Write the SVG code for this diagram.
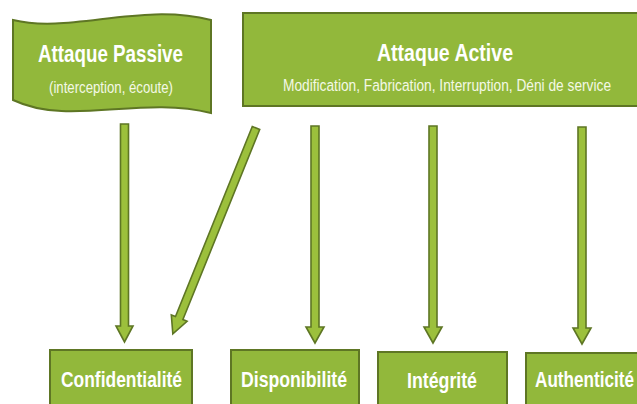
<svg xmlns="http://www.w3.org/2000/svg" width="637" height="404" viewBox="0 0 637 404">
  <style>
    .box { fill: #92b83b; stroke: #5e7624; stroke-width: 2; }
    .arrow { fill: #9cc03c; stroke: #5e7624; stroke-width: 1.6; stroke-linejoin: miter; }
    .title { font-family: "Liberation Sans", Arial, sans-serif; font-weight: bold; fill: #ffffff; }
    .sub { font-family: "Liberation Sans", Arial, sans-serif; fill: #f4f8e6; }
  </style>
  <rect x="0" y="0" width="637" height="404" fill="#ffffff"/>

  <!-- source attacks -->
  <g id="attaque-passive">
    <path class="box" d="M13,20 C70,34 140,2 211,20 L211,113 C140,95 70,127 13,100 Z"/>
    <text class="title" x="110.5" y="62" font-size="24" text-anchor="middle" textLength="145" lengthAdjust="spacingAndGlyphs">Attaque Passive</text>
    <text class="sub" x="111" y="93" font-size="17" text-anchor="middle" textLength="124" lengthAdjust="spacingAndGlyphs">(interception, écoute)</text>
  </g>

  <g id="attaque-active">
    <rect class="box" x="243" y="13" width="395" height="93"/>
    <text class="title" x="445" y="61" font-size="24" text-anchor="middle" textLength="136" lengthAdjust="spacingAndGlyphs">Attaque Active</text>
    <!-- condensed horizontally to fit the box -->
    <text class="sub" transform="translate(447,91) scale(0.808,1)" x="0" y="0" font-size="17" text-anchor="middle" textLength="406" lengthAdjust="spacingAndGlyphs">Modification, Fabrication, Interruption, Déni de service</text>
  </g>

  <!-- security properties -->
  <g id="confidentialite">
    <rect class="box" x="50" y="350" width="142" height="55"/>
    <text class="title" x="121.5" y="387" font-size="22" text-anchor="middle" textLength="121" lengthAdjust="spacingAndGlyphs">Confidentialité</text>
  </g>
  <g id="disponibilite">
    <rect class="box" x="231" y="350" width="128" height="55"/>
    <text class="title" x="294" y="387" font-size="22" text-anchor="middle" textLength="106" lengthAdjust="spacingAndGlyphs">Disponibilité</text>
  </g>
  <g id="integrite">
    <rect class="box" x="378" y="352" width="129" height="53"/>
    <text class="title" x="442" y="388" font-size="22" text-anchor="middle" textLength="70" lengthAdjust="spacingAndGlyphs">Intégrité</text>
  </g>
  <g id="authenticite">
    <rect class="box" x="526" y="353" width="112" height="52"/>
    <text class="title" transform="translate(535,387) scale(0.78,1)" x="0" y="0" font-size="22" textLength="127" lengthAdjust="spacingAndGlyphs">Authenticité</text>
  </g>

  <!-- block arrows -->
  <g id="connectors">
    <polygon class="arrow" points="120.5,124 128.5,124 128.5,326 133,326 124.5,342 116,326 120.5,326"/>
    <polygon class="arrow" transform="rotate(22 256 128)" points="252,128 260,128 260,333 264.5,333 256,350 247.5,333 252,333"/>
    <polygon class="arrow" points="311,126 319,126 319,327 324,327 315,343 306,327 311,327"/>
    <polygon class="arrow" points="429,126 437,126 437,327 442,327 433,343 424,327 429,327"/>
    <polygon class="arrow" points="578,127 586,127 586,328 591,328 582,344 573,328 578,328"/>
  </g>
</svg>
